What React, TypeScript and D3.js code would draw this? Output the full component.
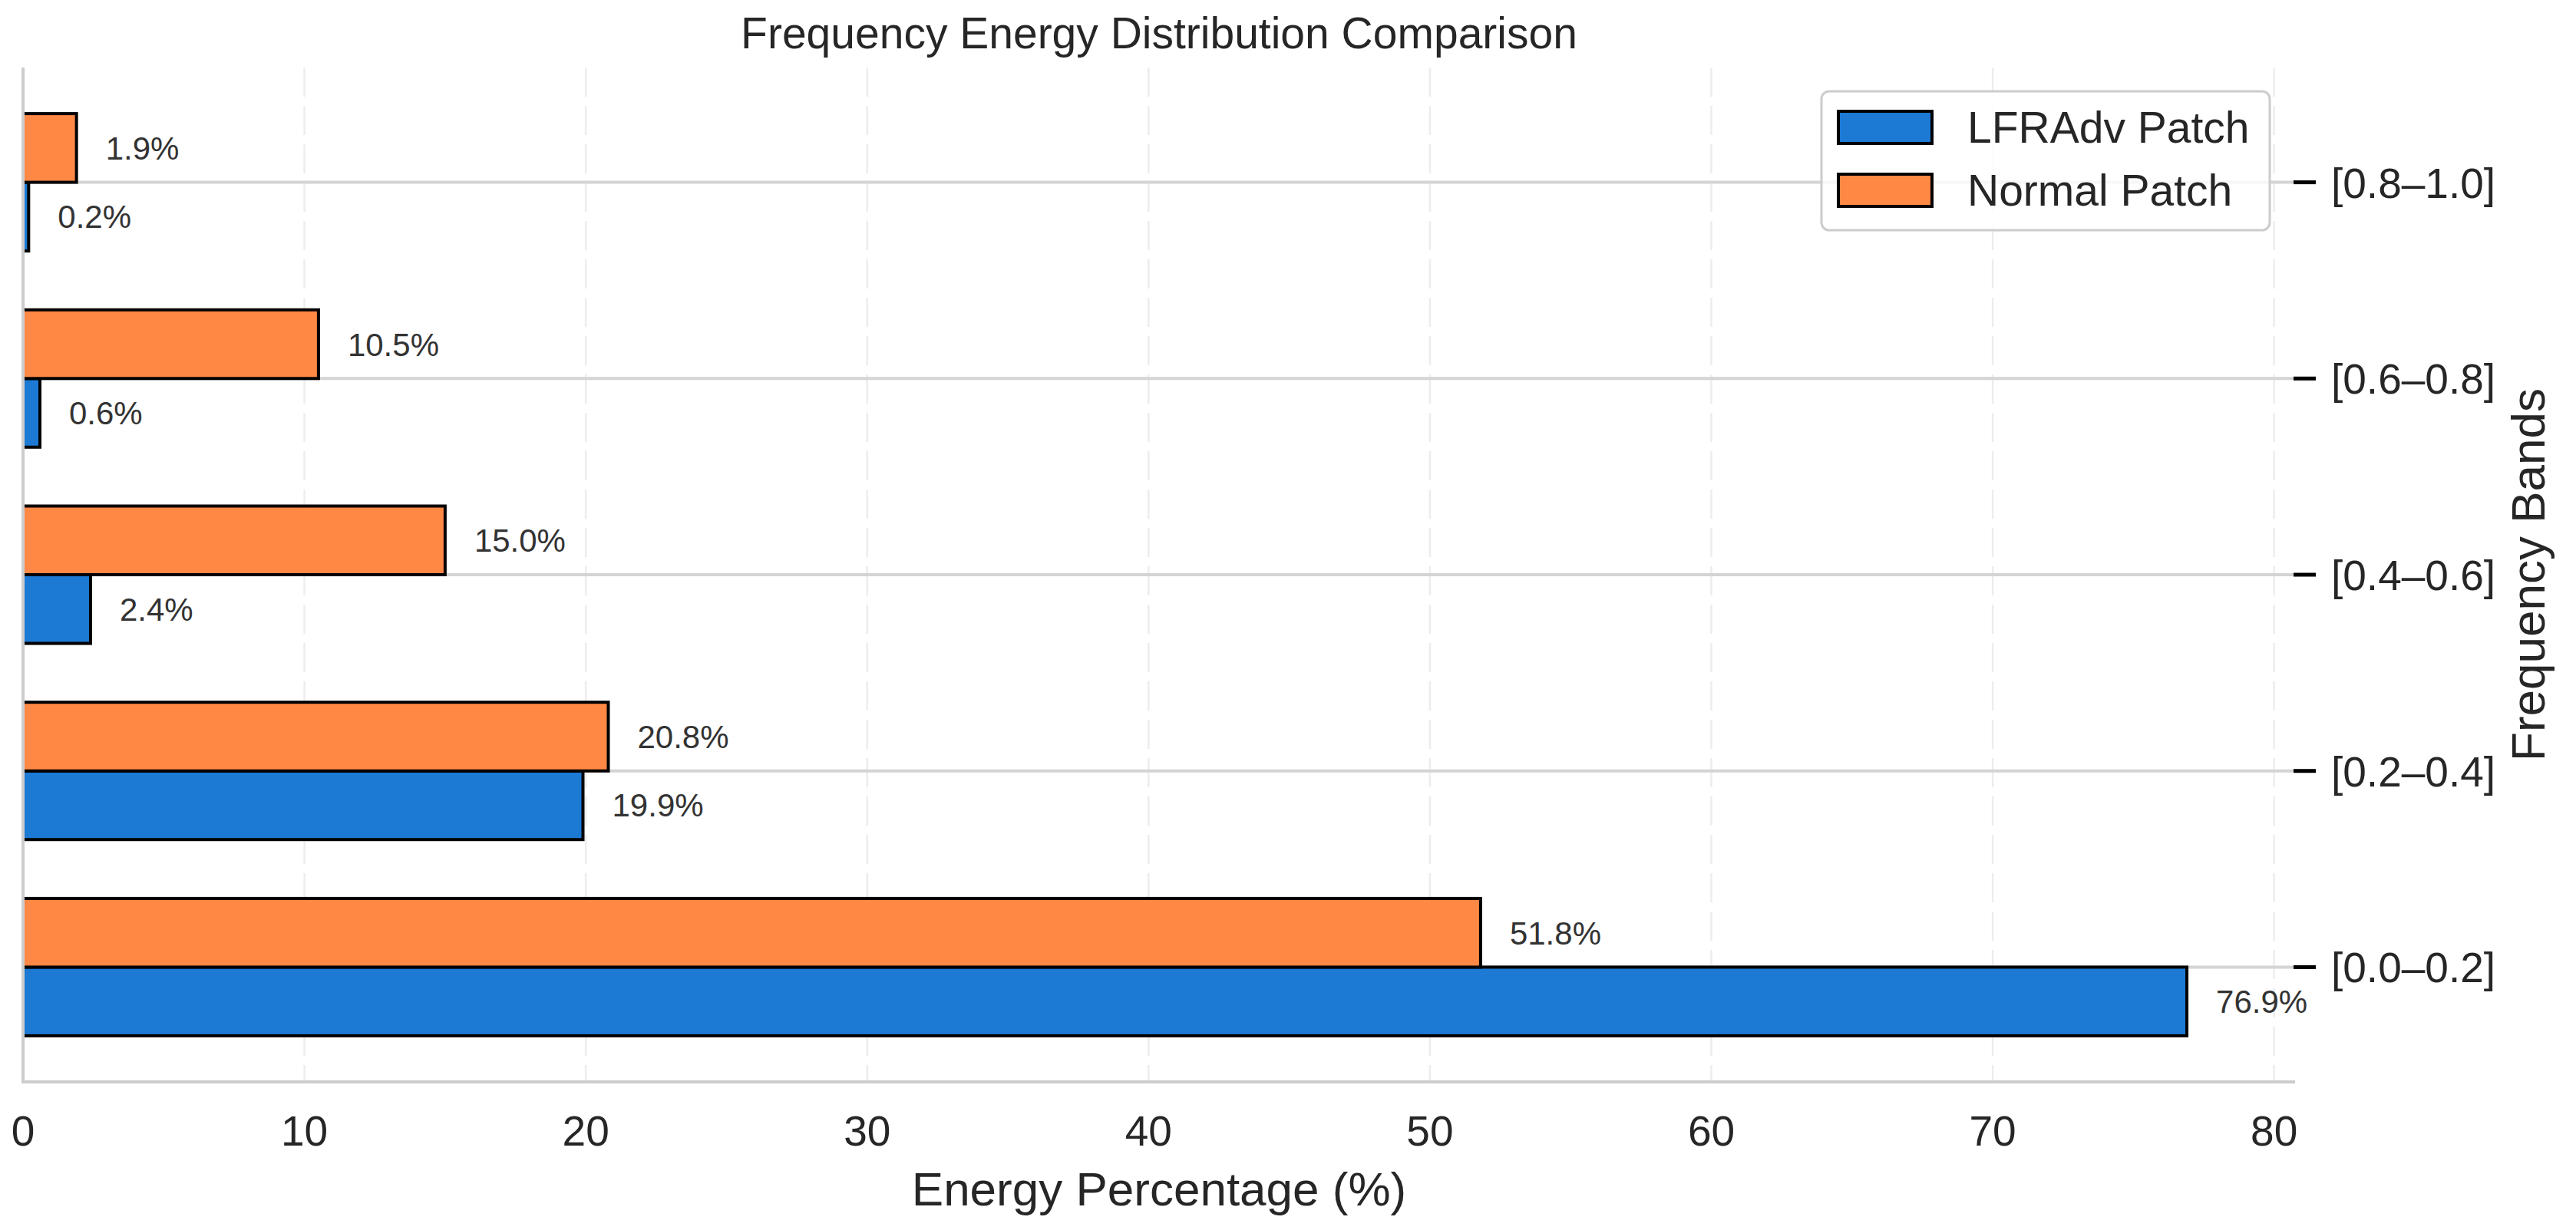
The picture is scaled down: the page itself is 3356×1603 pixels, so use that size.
import { useEffect, useRef } from "react"
import * as d3 from "d3"

const bands = ["[0.0–0.2]", "[0.2–0.4]", "[0.4–0.6]", "[0.6–0.8]", "[0.8–1.0]"]
const lfradvValues = [76.9, 19.9, 2.4, 0.6, 0.2]
const normalValues = [51.8, 20.8, 15.0, 10.5, 1.9]
const xTicks = [0, 10, 20, 30, 40, 50, 60, 70, 80]
const seriesNames = ["LFRAdv Patch", "Normal Patch"]

const W = 3356
const H = 1603
const FONT = "'Liberation Sans', Arial, Helvetica, sans-serif"
const TEXT = "#262626"
const BLUE = "#1c79d4"
const ORANGE = "#ff8844"

export default function App() {
  const svgRef = useRef<SVGSVGElement>(null)

  useEffect(() => {
    if (!svgRef.current) return
    const svg = d3.select(svgRef.current)
    svg.selectAll("*").remove()

    const left = 30
    const right = 2990
    const top = 88
    const bottom = 1410
    const barH = 0.35

    const x = d3.scaleLinear().domain([0, 76.9 * 1.05]).range([left, right])
    const y = d3
      .scaleLinear()
      .domain([-0.35 - 4.7 * 0.05, 4.35 + 4.7 * 0.05])
      .range([bottom, top])

    svg.append("rect").attr("width", W).attr("height", H).attr("fill", "#ffffff")

    // vertical dashed grid
    svg
      .append("g")
      .selectAll("line")
      .data(xTicks)
      .enter()
      .append("line")
      .attr("x1", (d) => x(d))
      .attr("x2", (d) => x(d))
      .attr("y1", top)
      .attr("y2", bottom)
      .style("stroke", "#ededed")
      .style("stroke-width", 2.5)
      .style("stroke-dasharray", "38 12")

    // horizontal grid at band centers
    svg
      .append("g")
      .selectAll("line")
      .data(bands)
      .enter()
      .append("line")
      .attr("x1", left)
      .attr("x2", right)
      .attr("y1", (_, i) => y(i))
      .attr("y2", (_, i) => y(i))
      .style("stroke", "#d4d4d4")
      .style("stroke-width", 4)

    const series = [
      { values: lfradvValues, color: BLUE, offset: -barH },
      { values: normalValues, color: ORANGE, offset: 0 },
    ]

    series.forEach((s) => {
      const g = svg.append("g")
      g.selectAll("rect")
        .data(s.values)
        .enter()
        .append("rect")
        .attr("x", x(0))
        .attr("y", (_, i) => y(i + s.offset + barH))
        .attr("width", (d) => x(d) - x(0))
        .attr("height", y(0) - y(barH))
        .style("fill", s.color)
        .style("stroke", "#000000")
        .style("stroke-width", 4)

      g.selectAll("text")
        .data(s.values)
        .enter()
        .append("text")
        .attr("x", (d) => x(d) + 38)
        .attr("y", (_, i) => y(i + s.offset + barH / 2) + 15)
        .style("font-family", FONT)
        .style("font-size", "42px")
        .style("fill", "#333333")
        .text((d) => `${d.toFixed(1)}%`)
    })

    // spines
    svg
      .append("line")
      .attr("x1", left)
      .attr("x2", left)
      .attr("y1", top)
      .attr("y2", bottom)
      .style("stroke", "#cccccc")
      .style("stroke-width", 4)
    svg
      .append("line")
      .attr("x1", left - 2)
      .attr("x2", right)
      .attr("y1", bottom)
      .attr("y2", bottom)
      .style("stroke", "#cccccc")
      .style("stroke-width", 4)

    // x tick labels
    svg
      .append("g")
      .selectAll("text")
      .data(xTicks)
      .enter()
      .append("text")
      .attr("x", (d) => x(d))
      .attr("y", 1493)
      .attr("text-anchor", "middle")
      .style("font-family", FONT)
      .style("font-size", "55px")
      .style("fill", TEXT)
      .text((d) => d)

    // right y ticks
    const yt = svg.append("g")
    yt.selectAll("line")
      .data(bands)
      .enter()
      .append("line")
      .attr("x1", right - 2)
      .attr("x2", right + 27)
      .attr("y1", (_, i) => y(i))
      .attr("y2", (_, i) => y(i))
      .style("stroke", "#000000")
      .style("stroke-width", 5)
    yt.selectAll("text")
      .data(bands)
      .enter()
      .append("text")
      .attr("x", 3037)
      .attr("y", (_, i) => y(i) + 20)
      .style("font-family", FONT)
      .style("font-size", "55px")
      .style("fill", TEXT)
      .text((d) => d)

    // axis labels and title
    svg
      .append("text")
      .attr("x", (left + right) / 2)
      .attr("y", 1571)
      .attr("text-anchor", "middle")
      .style("font-family", FONT)
      .style("font-size", "62px")
      .style("fill", TEXT)
      .text("Energy Percentage (%)")

    svg
      .append("text")
      .attr("transform", `translate(3315, ${(top + bottom) / 2}) rotate(-90)`)
      .attr("text-anchor", "middle")
      .style("font-family", FONT)
      .style("font-size", "62px")
      .style("fill", TEXT)
      .text("Frequency Bands")

    svg
      .append("text")
      .attr("x", (left + right) / 2)
      .attr("y", 63)
      .attr("text-anchor", "middle")
      .style("font-family", FONT)
      .style("font-size", "57px")
      .style("fill", TEXT)
      .text("Frequency Energy Distribution Comparison")

    // legend
    const lg = svg.append("g").attr("transform", "translate(2373, 119)")
    lg.append("rect")
      .attr("width", 584)
      .attr("height", 181)
      .attr("rx", 10)
      .style("fill", "#ffffff")
      .style("fill-opacity", 0.8)
      .style("stroke", "#cccccc")
      .style("stroke-width", 3)
    const items = lg
      .selectAll("g")
      .data(seriesNames)
      .enter()
      .append("g")
      .attr("transform", (_, i) => `translate(0, ${47 + i * 82})`)
    items
      .append("rect")
      .attr("x", 22)
      .attr("y", -21)
      .attr("width", 122)
      .attr("height", 42)
      .style("fill", (_, i) => (i === 0 ? BLUE : ORANGE))
      .style("stroke", "#000000")
      .style("stroke-width", 4)
    items
      .append("text")
      .attr("x", 190)
      .attr("y", 20)
      .style("font-family", FONT)
      .style("font-size", "57px")
      .style("fill", TEXT)
      .text((d) => d)
  }, [])

  return (
    <svg
      ref={svgRef}
      width={W}
      height={H}
      viewBox={`0 0 ${W} ${H}`}
      style={{ position: "absolute", left: 0, top: 0, display: "block" }}
    />
  )
}
